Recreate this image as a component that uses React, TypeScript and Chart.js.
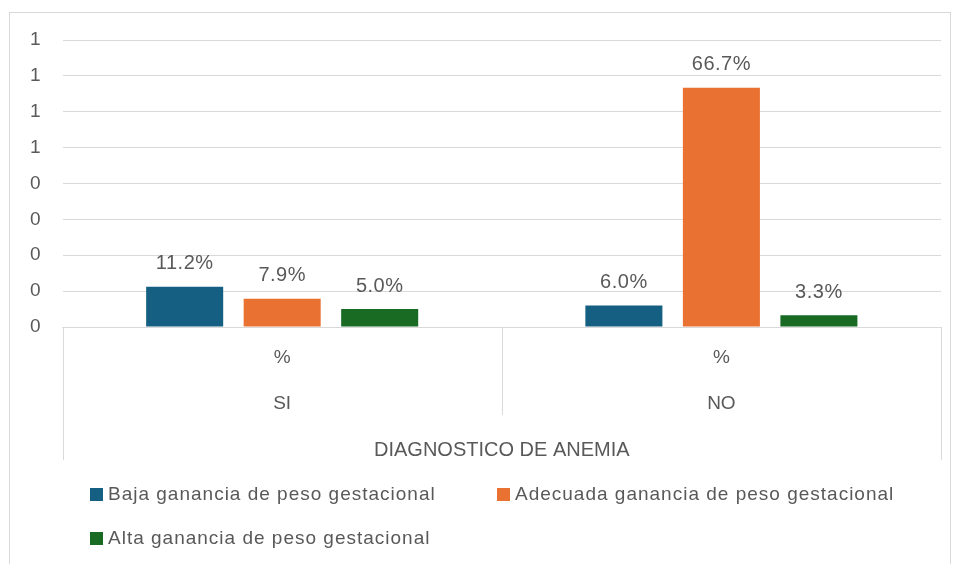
import React, { useEffect, useRef } from "react";
import { Chart, registerables } from "chart.js";

Chart.register(...registerables);

const categories: string[][] = [["%", "SI"], ["%", "NO"]];
const axisTitle = "DIAGNOSTICO DE ANEMIA";
const seriesNames = [
  "Baja ganancia de peso gestacional",
  "Adecuada ganancia de peso gestacional",
  "Alta ganancia de peso gestacional",
];
const bajaValues = [0.112, 0.06];
const adecuadaValues = [0.079, 0.667];
const altaValues = [0.05, 0.033];
const seriesColors = ["#156082", "#E97132", "#196B24"];
const yMin = 0;
const yMax = 0.8;
const yStep = 0.1;

const TEXT = "#595959";
const GRID = "#d9d9d9";
const FONT = "'Liberation Sans', Arial, sans-serif";

const framePlugin = {
  id: "frame",
  beforeDraw(chart: any) {
    const ctx = chart.ctx;
    ctx.save();
    ctx.fillStyle = "#ffffff";
    ctx.fillRect(0, 0, chart.width, chart.height);
    ctx.strokeStyle = GRID;
    ctx.lineWidth = 1;
    ctx.strokeRect(9.5, 12.5, 941, 600);
    ctx.restore();
  },
  afterDraw(chart: any) {
    const ctx = chart.ctx;
    const area = chart.chartArea;
    const xs = chart.scales.x;
    ctx.save();
    ctx.strokeStyle = GRID;
    ctx.lineWidth = 1;
    const n = chart.data.labels.length;
    for (let i = 0; i <= n; i++) {
      let px: number;
      if (i === 0) px = area.left;
      else if (i === n) px = area.right;
      else px = (xs.getPixelForTick(i - 1) + xs.getPixelForTick(i)) / 2;
      const outer = i === 0 || i === n;
      const endY = outer ? area.bottom + 133 : area.bottom + 88;
      ctx.beginPath();
      ctx.moveTo(Math.round(px) + 0.5, area.bottom);
      ctx.lineTo(Math.round(px) + 0.5, endY);
      ctx.stroke();
    }
    // value labels
    ctx.fillStyle = TEXT;
    ctx.font = `20px ${FONT}`;
    (ctx as any).letterSpacing = "0.5px";
    ctx.textAlign = "center";
    ctx.textBaseline = "middle";
    chart.data.datasets.forEach((ds: any, di: number) => {
      const meta = chart.getDatasetMeta(di);
      meta.data.forEach((bar: any, i: number) => {
        const v = ds.data[i];
        ctx.fillText((v * 100).toFixed(1) + "%", bar.x, bar.y - 23);
      });
    });
    // legend
    const positions = [
      [90, 495],
      [497, 495],
      [90, 539],
    ];
    ctx.font = `19px ${FONT}`;
    (ctx as any).letterSpacing = "1px";
    ctx.textAlign = "left";
    chart.data.datasets.forEach((ds: any, di: number) => {
      const [lx, ly] = positions[di];
      ctx.fillStyle = ds.backgroundColor;
      ctx.fillRect(lx, ly - 7, 13, 13);
      ctx.fillStyle = TEXT;
      ctx.fillText(ds.label, lx + 18, ly);
    });
    (ctx as any).letterSpacing = "0px";
    ctx.restore();
  },
};

export default function App() {
  const ref = useRef<HTMLCanvasElement>(null);
  useEffect(() => {
    if (!ref.current) return;
    const seriesData = [bajaValues, adecuadaValues, altaValues];
    const chart = new Chart(ref.current, {
      type: "bar",
      data: {
        labels: categories,
        datasets: seriesNames.map((name, i) => ({
          label: name,
          data: seriesData[i],
          backgroundColor: seriesColors[i],
          categoryPercentage: 0.666,
          barPercentage: 0.79,
        })),
      },
      options: {
        animation: false,
        responsive: false,
        maintainAspectRatio: false,
        layout: { padding: { left: 8, right: 19, top: 40, bottom: 102 } },
        plugins: { legend: { display: false }, tooltip: { enabled: false } },
        scales: {
          x: {
            grid: { display: false, drawTicks: false },
            border: { display: true, color: GRID },
            ticks: {
              color: TEXT,
              padding: 8,
              font: { family: FONT, size: 19, lineHeight: "46px" },
              maxRotation: 0,
              autoSkip: false,
            },
            title: {
              display: true,
              text: axisTitle,
              color: TEXT,
              font: { family: FONT, size: 20 },
              padding: { top: 3, bottom: 0 },
            },
          },
          y: {
            min: yMin,
            max: yMax,
            grid: { color: GRID, drawTicks: false },
            border: { display: false },
            ticks: {
              stepSize: yStep,
              color: TEXT,
              padding: 22,
              font: { family: FONT, size: 19 },
              callback: (v: any) => String(Math.round(Number(v) + 1e-9)),
            },
          },
        },
      },
      plugins: [framePlugin],
    });
    return () => chart.destroy();
  }, []);
  return (
    <div style={{ position: "absolute", left: 0, top: 0, width: 960, height: 564 }}>
      <canvas ref={ref} width={960} height={564} style={{ display: "block" }} />
    </div>
  );
}
